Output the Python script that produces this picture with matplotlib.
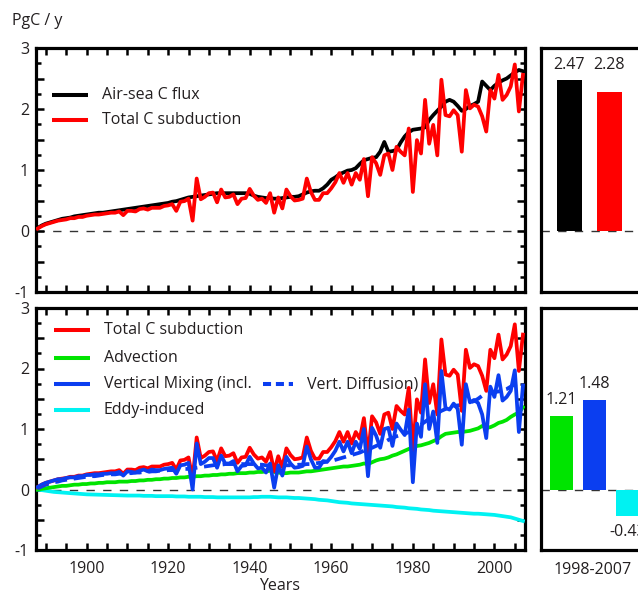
import numpy as np
import matplotlib
matplotlib.use("Agg")
import matplotlib.pyplot as plt
from matplotlib.ticker import MultipleLocator, FuncFormatter

plt.rcParams['font.family'] = ['Open Sans', 'DejaVu Sans']

years = list(range(1888, 2008))

air_sea = [
    0.05, 0.09, 0.12, 0.14, 0.16, 0.18, 0.20, 0.21, 0.22, 0.24,
    0.25, 0.26, 0.27, 0.28, 0.29, 0.30, 0.30, 0.31, 0.32, 0.33,
    0.34, 0.35, 0.36, 0.37, 0.38, 0.39, 0.40, 0.41, 0.42, 0.43,
    0.44, 0.45, 0.46, 0.48, 0.49, 0.51, 0.53, 0.55, 0.56, 0.57,
    0.58, 0.59, 0.60, 0.61, 0.62, 0.62, 0.62, 0.62, 0.62, 0.62,
    0.62, 0.62, 0.61, 0.58, 0.56, 0.55, 0.54, 0.54, 0.53, 0.53,
    0.54, 0.55, 0.56, 0.56, 0.57, 0.60, 0.63, 0.65, 0.66, 0.66,
    0.70, 0.76, 0.84, 0.88, 0.93, 0.96, 0.99, 1.00, 1.03, 1.10,
    1.16, 1.18, 1.20, 1.21, 1.30, 1.46, 1.30, 1.31, 1.33, 1.45,
    1.55, 1.62, 1.66, 1.67, 1.68, 1.70, 1.82, 1.90, 1.97, 2.04,
    2.12, 2.15, 2.12, 2.05, 1.97, 2.00, 2.05, 2.08, 2.12, 2.45,
    2.38, 2.31, 2.38, 2.43, 2.47, 2.50, 2.55, 2.60, 2.64, 2.62,
]

total_sub = [
    0.04, 0.08, 0.11, 0.13, 0.15, 0.17, 0.18, 0.19, 0.21, 0.21,
    0.23, 0.23, 0.25, 0.26, 0.27, 0.27, 0.28, 0.29, 0.30, 0.30,
    0.32, 0.26, 0.33, 0.33, 0.32, 0.36, 0.37, 0.35, 0.38, 0.38,
    0.38, 0.41, 0.42, 0.44, 0.33, 0.48, 0.49, 0.53, 0.17, 0.86,
    0.52, 0.56, 0.62, 0.63, 0.47, 0.68, 0.55, 0.56, 0.60, 0.44,
    0.53, 0.54, 0.69, 0.58, 0.51, 0.53, 0.46, 0.62, 0.30, 0.55,
    0.37, 0.68, 0.57, 0.50, 0.51, 0.53, 0.86, 0.64, 0.51, 0.51,
    0.62, 0.62, 0.70, 0.80, 0.95, 0.79, 0.95, 0.76, 0.95, 0.84,
    1.18, 0.57, 1.21, 1.11, 0.92, 1.24, 1.27, 1.00, 1.38, 1.30,
    1.24, 1.68, 0.64, 1.49, 1.27, 2.15, 1.43, 1.74, 1.24, 2.48,
    1.90, 1.88, 1.98, 1.90, 1.30, 2.31, 2.01, 2.07, 2.04, 1.88,
    1.63, 2.31, 2.17, 2.56, 2.15, 2.23, 2.37, 2.73, 1.96, 2.56,
]

advection = [
    0.00, 0.01, 0.02, 0.03, 0.04, 0.05, 0.06, 0.06, 0.07, 0.08,
    0.08, 0.09, 0.09, 0.10, 0.10, 0.11, 0.11, 0.12, 0.12, 0.12,
    0.13, 0.13, 0.13, 0.14, 0.14, 0.15, 0.15, 0.16, 0.16, 0.17,
    0.17, 0.18, 0.18, 0.19, 0.19, 0.20, 0.20, 0.21, 0.21, 0.22,
    0.22, 0.23, 0.23, 0.24, 0.24, 0.25, 0.25, 0.26, 0.26, 0.27,
    0.27, 0.27, 0.28, 0.28, 0.29, 0.29, 0.30, 0.31, 0.29, 0.28,
    0.27, 0.27, 0.28, 0.28, 0.28, 0.29, 0.30, 0.30, 0.31, 0.32,
    0.33, 0.34, 0.35, 0.36, 0.37, 0.38, 0.38, 0.39, 0.40, 0.41,
    0.43, 0.42, 0.45, 0.48, 0.50, 0.51, 0.53, 0.56, 0.58, 0.61,
    0.64, 0.67, 0.70, 0.72, 0.73, 0.75, 0.77, 0.80, 0.83, 0.88,
    0.92, 0.93, 0.94, 0.95, 0.95, 0.96, 0.97, 0.99, 1.01, 1.05,
    1.02, 1.03, 1.06, 1.10, 1.12, 1.15, 1.20, 1.24, 1.27, 1.36,
]

vertical_mixing = [
    0.04, 0.08, 0.11, 0.13, 0.15, 0.17, 0.17, 0.19, 0.20, 0.20,
    0.22, 0.22, 0.24, 0.24, 0.25, 0.25, 0.26, 0.26, 0.27, 0.27,
    0.29, 0.23, 0.30, 0.29, 0.28, 0.31, 0.33, 0.30, 0.33, 0.32,
    0.32, 0.34, 0.35, 0.36, 0.26, 0.40, 0.41, 0.44, 0.00, 0.76,
    0.42, 0.46, 0.52, 0.52, 0.36, 0.56, 0.43, 0.43, 0.47, 0.30,
    0.39, 0.40, 0.54, 0.43, 0.35, 0.36, 0.28, 0.43, 0.03, 0.40,
    0.23, 0.54, 0.43, 0.36, 0.37, 0.39, 0.71, 0.50, 0.36, 0.36,
    0.47, 0.46, 0.54, 0.64, 0.79, 0.63, 0.79, 0.60, 0.79, 0.67,
    1.00, 0.22, 1.02, 0.89, 0.69, 1.00, 1.02, 0.72, 1.09, 0.99,
    0.90, 1.32, 0.12, 1.09, 0.87, 1.74, 1.00, 1.29, 0.77, 1.96,
    1.35, 1.32, 1.42, 1.33, 0.74, 1.74, 1.44, 1.48, 1.43, 1.24,
    0.85, 1.70, 1.53, 1.89, 1.47, 1.53, 1.63, 1.97, 0.95, 1.72,
]

vertical_diffusion = [
    0.02, 0.05, 0.08, 0.10, 0.12, 0.13, 0.15, 0.16, 0.17, 0.18,
    0.19, 0.20, 0.21, 0.22, 0.22, 0.23, 0.24, 0.24, 0.25, 0.25,
    0.26, 0.26, 0.27, 0.27, 0.28, 0.28, 0.29, 0.29, 0.30, 0.30,
    0.31, 0.31, 0.32, 0.32, 0.33, 0.33, 0.34, 0.34, 0.35, 0.36,
    0.37, 0.38, 0.39, 0.40, 0.41, 0.41, 0.42, 0.42, 0.42, 0.42,
    0.42, 0.42, 0.42, 0.42, 0.41, 0.41, 0.40, 0.40, 0.40, 0.40,
    0.40, 0.40, 0.40, 0.40, 0.41, 0.41, 0.42, 0.42, 0.43, 0.44,
    0.45, 0.46, 0.47, 0.49, 0.51, 0.53, 0.55, 0.57, 0.59, 0.61,
    0.64, 0.66, 0.69, 0.72, 0.75, 0.78, 0.82, 0.85, 0.88, 0.90,
    0.92, 0.95, 0.98, 1.02, 1.07, 1.12, 1.17, 1.22, 1.26, 1.30,
    1.33, 1.36, 1.38, 1.39, 1.40, 1.42, 1.44, 1.46, 1.50, 1.55,
    1.57, 1.59, 1.61, 1.62, 1.64, 1.66, 1.70, 1.74, 1.76, 1.78,
]

eddy = [
    0.00, -0.01, -0.02, -0.03, -0.04, -0.045, -0.05, -0.055, -0.06, -0.065,
    -0.07, -0.075, -0.08, -0.082, -0.084, -0.086, -0.088, -0.09, -0.092, -0.094,
    -0.096, -0.098, -0.10, -0.10, -0.10, -0.10, -0.105, -0.105, -0.105, -0.11,
    -0.11, -0.11, -0.11, -0.11, -0.115, -0.115, -0.115, -0.12, -0.12, -0.12,
    -0.12, -0.125, -0.125, -0.125, -0.13, -0.13, -0.13, -0.13, -0.13, -0.13,
    -0.13, -0.13, -0.13, -0.125, -0.125, -0.12, -0.12, -0.12, -0.125, -0.13,
    -0.13, -0.13, -0.135, -0.14, -0.14, -0.145, -0.15, -0.155, -0.16, -0.17,
    -0.175, -0.18, -0.19, -0.20, -0.21, -0.215, -0.22, -0.23, -0.235, -0.24,
    -0.245, -0.25, -0.255, -0.26, -0.265, -0.27, -0.275, -0.28, -0.29, -0.295,
    -0.30, -0.31, -0.315, -0.32, -0.33, -0.335, -0.34, -0.35, -0.355, -0.36,
    -0.365, -0.37, -0.375, -0.38, -0.385, -0.39, -0.395, -0.40, -0.40, -0.405,
    -0.41, -0.415, -0.42, -0.43, -0.44, -0.45, -0.46, -0.48, -0.50, -0.52,
]

period_label = "1998-2007"
top_bar_values = [2.47, 2.28]
bottom_bar_values = [1.21, 1.48, -0.43]

RED = '#ff0000'
BLACK = '#000000'
GREEN = '#00e400'
BLUE = '#0b3ef0'
CYAN = '#00f2f2'
TXT = '#231f20'

W, H = 638, 597
fig = plt.figure(figsize=(W / 100, H / 100), dpi=100)

def frac(l, t, r, b):
    return [l / W, 1 - b / H, (r - l) / W, (b - t) / H]

ax1 = fig.add_axes(frac(36, 48, 525, 292))
ax2 = fig.add_axes(frac(36, 308, 525, 550))
axr1 = fig.add_axes(frac(541, 48, 701, 292))
axr2 = fig.add_axes(frac(541, 308, 701, 550))

SPW = 2.3
LW = 2.7
for ax in (ax1, ax2, axr1, axr2):
    for s in ax.spines.values():
        s.set_linewidth(SPW)
        s.set_color('black')
    ax.set_ylim(-1, 3)

for ax in (ax1, ax2):
    ax.set_xlim(1887.6, 2007.5)
    ax.xaxis.set_major_locator(MultipleLocator(10))
    ax.xaxis.set_minor_locator(MultipleLocator(5))
    ax.yaxis.set_major_locator(MultipleLocator(0.5))
    ax.yaxis.set_minor_locator(MultipleLocator(0.25))
    ax.tick_params(which='both', direction='in', top=True, right=True,
                   width=1.8, colors='black', labelcolor=TXT, labelsize=11.5)
    ax.tick_params(axis='x', which='both', length=5, pad=8)
    ax.tick_params(axis='y', which='major', length=6, pad=5)
    ax.tick_params(axis='y', which='minor', length=3.5)
    ax.yaxis.set_major_formatter(FuncFormatter(
        lambda v, p: f"{int(round(v))}" if abs(v - round(v)) < 1e-6 else ""))
    ax.axhline(0, color='#333333', lw=1.0, ls=(0, (6, 6)), zorder=1)

ax1.xaxis.set_major_formatter(FuncFormatter(lambda v, p: ""))
ax2.xaxis.set_major_formatter(FuncFormatter(
    lambda v, p: f"{int(round(v))}" if int(round(v)) % 20 == 0 else ""))

# top panel lines
ax1.plot(years, air_sea, color=BLACK, lw=LW, zorder=3)
ax1.plot(years, total_sub, color=RED, lw=LW, zorder=4)

# bottom panel lines
ax2.plot(years, eddy, color=CYAN, lw=LW, zorder=3)
ax2.plot(years, advection, color=GREEN, lw=LW, zorder=3)
ax2.plot(years, vertical_diffusion, color=BLUE, lw=LW, ls=(0, (3.2, 1.8)), zorder=3)
ax2.plot(years, total_sub, color=RED, lw=LW, zorder=4)
ax2.plot(years, vertical_mixing, color=BLUE, lw=LW, zorder=5)

# legends (manual)
def leg(ax, x0, x1, y, color, text, ls='-'):
    ax.plot([x0, x1], [y, y], transform=ax.transAxes, color=color, lw=LW + 0.2,
            ls=ls, clip_on=False, solid_capstyle='butt')
    ax.text(x1 + 0.029, y, text, transform=ax.transAxes, va='center', ha='left',
            fontsize=11.5, color=TXT)

leg(ax1, 0.033, 0.106, 0.807, BLACK, 'Air-sea C flux')
leg(ax1, 0.033, 0.106, 0.705, RED, 'Total C subduction')

leg(ax2, 0.037, 0.110, 0.909, RED, 'Total C subduction')
leg(ax2, 0.037, 0.110, 0.795, GREEN, 'Advection')
leg(ax2, 0.037, 0.110, 0.685, BLUE, 'Vertical Mixing (incl.')
leg(ax2, 0.037, 0.110, 0.579, CYAN, 'Eddy-induced')
leg(ax2, 0.464, 0.526, 0.685, BLUE, 'Vert. Diffusion)', ls=(0, (2.0, 1.2)))

# right bar panels
for ax in (axr1, axr2):
    ax.set_xticks([])
    ax.set_yticks([])
    ax.axhline(0, color='#333333', lw=1.0, ls=(0, (6, 6)), zorder=1)

axr1.set_xlim(-0.71, 3.29)
axr1.bar(range(len(top_bar_values)), top_bar_values, width=0.63,
         color=[BLACK, RED], zorder=2)
for i, v in enumerate(top_bar_values):
    axr1.text(i, 2.72, f"{v:.2f}", ha='center', va='center', fontsize=11.5, color=TXT)

axr2.set_xlim(-0.615, 4.23)
axr2.bar(range(len(bottom_bar_values)), bottom_bar_values, width=0.7,
         color=[GREEN, BLUE, CYAN], zorder=2)
for i, v in enumerate(bottom_bar_values):
    yy = v + 0.27 if v >= 0 else v - 0.27
    axr2.text(i, yy, f"{v:.2f}", ha='center', va='center', fontsize=11.5, color=TXT)

fig.text(12 / W, 1 - 21 / H, 'PgC / y', ha='left', va='center', fontsize=11.5, color=TXT)
fig.text(280 / W, 1 - 586 / H, 'Years', ha='center', va='center', fontsize=11.5, color=TXT)
fig.text(593 / W, 1 - 570 / H, period_label, ha='center', va='center', fontsize=11.5, color=TXT)

fig.savefig('out.png', dpi=100)
